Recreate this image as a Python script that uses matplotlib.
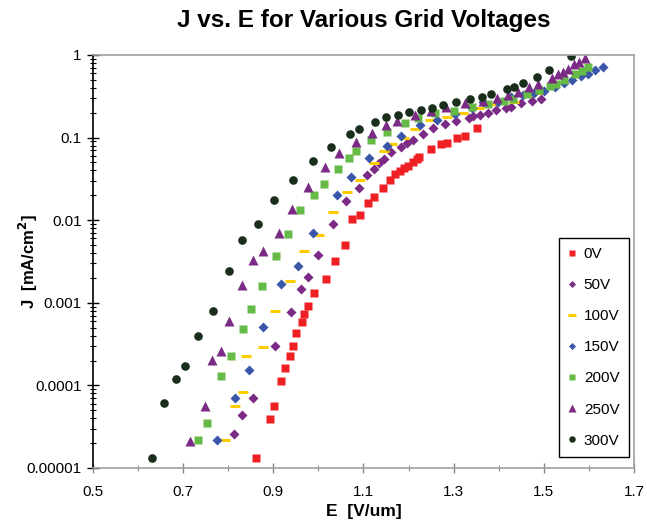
import matplotlib.pyplot as plt
from matplotlib.ticker import FixedLocator, NullFormatter

plt.rcParams['font.family'] = ['Liberation Sans', 'DejaVu Sans']

# 0V
E_0 = [0.861, 0.893, 0.901, 0.916, 0.927, 0.937, 0.943, 0.951, 0.963, 0.969, 0.977,
       0.991, 1.017, 1.037, 1.060, 1.075, 1.092, 1.110, 1.124, 1.143, 1.158, 1.171,
       1.180, 1.189, 1.199, 1.210, 1.218, 1.224, 1.249, 1.271, 1.285, 1.308, 1.325, 1.352]
J_0 = [1.31e-5, 3.95e-5, 5.68e-5, 1.14e-4, 1.62e-4, 2.29e-4, 3.00e-4, 4.27e-4, 5.81e-4,
       7.26e-4, 9.07e-4, 1.31e-3, 1.94e-3, 3.16e-3, 4.94e-3, 0.0103, 0.0116, 0.0163,
       0.0192, 0.0245, 0.0307, 0.0360, 0.0391, 0.0425, 0.0459, 0.0507, 0.0546, 0.0579,
       0.0724, 0.0825, 0.0860, 0.0995, 0.105, 0.129]

# 50V
E_50 = [0.813, 0.831, 0.856, 0.904, 0.939, 0.961, 0.978, 0.999, 1.033, 1.062, 1.090,
        1.108, 1.123, 1.134, 1.145, 1.160, 1.184, 1.196, 1.210, 1.232, 1.254, 1.281,
        1.306, 1.333, 1.344, 1.358, 1.376, 1.394, 1.416, 1.428, 1.449, 1.474, 1.493]
J_50 = [2.58e-5, 4.35e-5, 6.98e-5, 3.00e-4, 7.74e-4, 1.46e-3, 2.06e-3, 3.79e-3, 8.87e-3,
        0.0172, 0.0242, 0.0348, 0.0414, 0.0493, 0.0551, 0.0669, 0.0765, 0.0848, 0.0943,
        0.111, 0.131, 0.146, 0.158, 0.173, 0.184, 0.189, 0.201, 0.213, 0.231, 0.237,
        0.260, 0.275, 0.292]

# 100V
E_100 = [0.793, 0.816, 0.832, 0.839, 0.877, 0.903, 0.936, 0.969, 1.002, 1.032, 1.064,
         1.092, 1.123, 1.146, 1.164, 1.190, 1.215, 1.248, 1.285, 1.321, 1.356, 1.391,
         1.434, 1.471, 1.493]
J_100 = [2.18e-5, 5.68e-5, 8.39e-5, 2.29e-4, 2.89e-4, 7.89e-4, 1.84e-3, 4.21e-3, 6.56e-3,
         0.0126, 0.0217, 0.0304, 0.0497, 0.0683, 0.0825, 0.0997, 0.128, 0.161, 0.179,
         0.201, 0.228, 0.255, 0.272, 0.328, 0.350]

# 150V
E_150 = [0.776, 0.815, 0.846, 0.878, 0.916, 0.954, 0.988, 1.042, 1.073, 1.112, 1.152,
         1.184, 1.225, 1.262, 1.303, 1.340, 1.364, 1.398, 1.427, 1.454, 1.478, 1.500,
         1.524, 1.544, 1.563, 1.582, 1.598, 1.613, 1.631]
J_150 = [2.18e-5, 6.98e-5, 1.52e-4, 5.14e-4, 1.70e-3, 2.81e-3, 7.06e-3, 0.0200, 0.0333,
         0.0562, 0.0796, 0.105, 0.140, 0.163, 0.195, 0.230, 0.272, 0.268, 0.308, 0.328,
         0.347, 0.369, 0.408, 0.462, 0.501, 0.549, 0.586, 0.655, 0.720]

# 200V
E_200 = [0.733, 0.753, 0.784, 0.807, 0.832, 0.850, 0.876, 0.906, 0.933, 0.960, 0.990,
         1.013, 1.043, 1.067, 1.083, 1.116, 1.153, 1.192, 1.221, 1.258, 1.301, 1.341,
         1.376, 1.412, 1.432, 1.462, 1.490, 1.514, 1.528, 1.545, 1.570, 1.584, 1.599]
J_200 = [2.18e-5, 3.48e-5, 1.31e-4, 2.25e-4, 4.86e-4, 8.41e-4, 1.60e-3, 3.71e-3, 6.85e-3,
         0.0134, 0.0199, 0.0274, 0.0416, 0.0565, 0.0688, 0.0930, 0.118, 0.149, 0.171,
         0.199, 0.210, 0.233, 0.253, 0.280, 0.296, 0.334, 0.375, 0.419, 0.446, 0.495,
         0.584, 0.631, 0.720]

# 250V
E_250 = [0.716, 0.748, 0.765, 0.785, 0.801, 0.830, 0.856, 0.877, 0.912, 0.941, 0.976,
         1.014, 1.045, 1.083, 1.118, 1.150, 1.174, 1.214, 1.249, 1.284, 1.326, 1.366,
         1.397, 1.421, 1.443, 1.468, 1.488, 1.518, 1.532, 1.542, 1.553, 1.568, 1.577, 1.591]
J_250 = [2.14e-5, 5.63e-5, 2.03e-4, 2.61e-4, 6.07e-4, 1.64e-3, 3.34e-3, 4.24e-3, 6.94e-3,
         0.0137, 0.0249, 0.0437, 0.0644, 0.0890, 0.115, 0.140, 0.159, 0.186, 0.210, 0.235,
         0.260, 0.280, 0.299, 0.328, 0.353, 0.404, 0.443, 0.531, 0.581, 0.623, 0.673,
         0.767, 0.818, 0.914]

# 300V
E_300 = [0.630, 0.657, 0.684, 0.704, 0.733, 0.766, 0.802, 0.830, 0.866, 0.901, 0.943,
         0.988, 1.027, 1.069, 1.090, 1.125, 1.151, 1.176, 1.202, 1.227, 1.251, 1.276,
         1.306, 1.336, 1.362, 1.383, 1.419, 1.434, 1.454, 1.484, 1.512, 1.560]
J_300 = [1.31e-5, 6.18e-5, 1.19e-4, 1.72e-4, 3.93e-4, 7.89e-4, 2.43e-3, 5.76e-3, 9.07e-3,
         0.0177, 0.0303, 0.0525, 0.0759, 0.109, 0.126, 0.155, 0.179, 0.189, 0.202, 0.218,
         0.230, 0.248, 0.272, 0.291, 0.313, 0.334, 0.388, 0.413, 0.462, 0.546, 0.658, 0.97]

yticks = [1e-5, 1e-4, 1e-3, 1e-2, 1e-1, 1]
ytick_labels = ["0.00001", "0.0001", "0.001", "0.01", "0.1", "1"]
xticks = [0.5, 0.7, 0.9, 1.1, 1.3, 1.5, 1.7]

fig = plt.figure(figsize=(6.47, 5.23), dpi=100)
ax = fig.add_axes([0.1437, 0.1052, 0.8362, 0.7897])

ax.plot(E_0, J_0, "s", ms=6.3, color="#ee2024", mec="none", label="0V")
ax.plot(E_50, J_50, "D", ms=4.8, color="#7b2a86", mec="none", label="50V")
ax.plot(E_100, J_100, "_", ms=7, mew=2.2, color="#ffcc00", label="100V")
ax.plot(E_150, J_150, "D", ms=4.8, color="#3a56a8", mec="none", label="150V")
ax.plot(E_200, J_200, "s", ms=6.3, color="#66bb46", mec="none", label="200V")
ax.plot(E_250, J_250, "^", ms=7, color="#7b2a86", mec="none", label="250V")
ax.plot(E_300, J_300, "o", ms=6.2, color="#1a2e1c", mec="none", label="300V")

ax.set_yscale("log")
ax.set_ylim(1e-5, 1)
ax.set_xlim(0.5, 1.7)
ax.yaxis.set_major_locator(FixedLocator(yticks))
ax.set_yticklabels(ytick_labels)
ax.yaxis.set_minor_formatter(NullFormatter())
ax.set_xticks(xticks)
ax.set_xticklabels([str(x) for x in xticks])
ax.set_xticks([0.6, 0.8, 1.0, 1.2, 1.4, 1.6], minor=True)

ax.tick_params(axis="y", which="major", direction="inout", length=8, width=1, labelsize=11, pad=4)
ax.tick_params(axis="y", which="minor", direction="inout", length=5, width=0.8)
ax.tick_params(axis="x", which="major", direction="inout", length=7, width=1, color="#888888", labelsize=11, pad=9)
ax.tick_params(axis="x", which="minor", direction="inout", length=5, width=0.8, color="#888888")
ax.tick_params(right=False, top=False, which="both")

ax.spines["left"].set_color("black")
ax.spines["left"].set_linewidth(1.2)
for s in ["bottom", "top", "right"]:
    ax.spines[s].set_color("#a0a0a0")
    ax.spines[s].set_linewidth(1.2)

ax.set_title("J vs. E for Various Grid Voltages", fontsize=17.5, fontweight="bold", pad=20)
ax.set_xlabel("E  [V/um]", fontsize=12.5, fontweight="bold", labelpad=3)
ax.set_ylabel("J  [mA/cm$^\\mathbf{2}$]", fontsize=12, fontweight="bold")
ax.yaxis.set_label_coords(-0.098, 0.5)

leg = ax.legend(loc="lower right", bbox_to_anchor=(0.99, 0.027), fontsize=11,
                markerscale=0.75, labelspacing=1.12, handlelength=0.6, handletextpad=0.45,
                borderpad=0.6, borderaxespad=0, fancybox=False, framealpha=1,
                edgecolor="black")
leg.get_frame().set_linewidth(1.0)

fig.savefig("out.png", dpi=100)
